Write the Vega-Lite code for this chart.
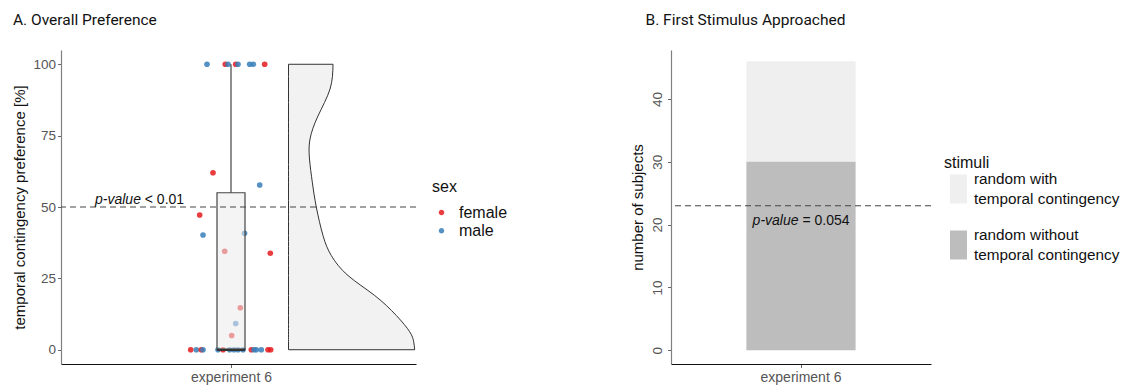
{
  "$schema": "https://vega.github.io/schema/vega-lite/v6.json",
  "background": "white",
  "padding": {"left": 12, "top": 12, "right": 5, "bottom": 5},
  "spacing": 122,
  "resolve": {"scale": {"color": "independent", "y": "independent"}, "legend": {"color": "independent"}},
  "config": {
    "view": {"stroke": null},
    "font": "Liberation Sans",
    "title": {"font": "Roboto", "fontSize": 15.5, "fontWeight": "normal", "color": "#111", "anchor": "start", "offset": 22},
    "axis": {"grid": false, "labelFont": "Liberation Sans", "labelFontSize": 13.5, "labelColor": "#555", "titleFont": "Liberation Sans", "titleFontSize": 15, "titleFontWeight": "normal", "titleColor": "#111", "tickColor": "#666", "tickSize": 3.5, "tickWidth": 1, "domainWidth": 1.2},
    "legend": {"titleFont": "Liberation Sans", "titleFontSize": 16, "titleFontWeight": "normal", "titleColor": "#111", "labelFont": "Liberation Sans", "labelFontSize": 16, "labelColor": "#111", "padding": 0}
  },
  "datasets": {
    "points": [
      {"jitter": -0.24, "value": 100, "sex": "male"},
      {"jitter": -0.057, "value": 100, "sex": "female"},
      {"jitter": -0.03, "value": 100, "sex": "male"},
      {"jitter": 0.047, "value": 100, "sex": "female"},
      {"jitter": 0.07, "value": 100, "sex": "male"},
      {"jitter": 0.187, "value": 100, "sex": "male"},
      {"jitter": 0.223, "value": 100, "sex": "male"},
      {"jitter": 0.337, "value": 100, "sex": "female"},
      {"jitter": -0.18, "value": 62, "sex": "female"},
      {"jitter": 0.287, "value": 57.7, "sex": "male"},
      {"jitter": -0.313, "value": 47.2, "sex": "female"},
      {"jitter": -0.28, "value": 40.2, "sex": "male"},
      {"jitter": 0.135, "value": 40.8, "sex": "male"},
      {"jitter": -0.063, "value": 34.5, "sex": "female"},
      {"jitter": 0.393, "value": 33.8, "sex": "female"},
      {"jitter": 0.093, "value": 14.7, "sex": "female"},
      {"jitter": 0.047, "value": 9.2, "sex": "male"},
      {"jitter": 0.007, "value": 5.0, "sex": "female"},
      {"jitter": -0.403, "value": 0, "sex": "female"},
      {"jitter": -0.347, "value": 0, "sex": "male"},
      {"jitter": -0.297, "value": 0, "sex": "female"},
      {"jitter": -0.28, "value": 0, "sex": "male"},
      {"jitter": -0.13, "value": 0, "sex": "male"},
      {"jitter": -0.08, "value": 0, "sex": "female"},
      {"jitter": -0.013, "value": 0, "sex": "male"},
      {"jitter": 0.03, "value": 0, "sex": "male"},
      {"jitter": 0.07, "value": 0, "sex": "male"},
      {"jitter": 0.12, "value": 0, "sex": "male"},
      {"jitter": 0.203, "value": 0, "sex": "female"},
      {"jitter": 0.23, "value": 0, "sex": "male"},
      {"jitter": 0.253, "value": 0, "sex": "male"},
      {"jitter": 0.303, "value": 0, "sex": "male"},
      {"jitter": 0.37, "value": 0, "sex": "female"},
      {"jitter": 0.397, "value": 0, "sex": "female"}
    ],
    "violin": [
      {"value": 0, "edge": 1.837},
      {"value": 2.8, "edge": 1.827},
      {"value": 6.3, "edge": 1.787},
      {"value": 12, "edge": 1.653},
      {"value": 19, "edge": 1.437},
      {"value": 26, "edge": 1.17},
      {"value": 33, "edge": 1.003},
      {"value": 40, "edge": 0.92},
      {"value": 50, "edge": 0.853},
      {"value": 58.7, "edge": 0.813},
      {"value": 66.8, "edge": 0.785},
      {"value": 73.8, "edge": 0.79},
      {"value": 81.9, "edge": 0.87},
      {"value": 91.3, "edge": 0.99},
      {"value": 100, "edge": 1.02}
    ],
    "box": [{"q1": 0, "median": 0, "q3": 55, "upper": 100}],
    "bars": [
      {"experiment": "experiment 6", "stimuli": "random with temporal contingency", "count": 16, "stack": 2},
      {"experiment": "experiment 6", "stimuli": "random without temporal contingency", "count": 30, "stack": 1}
    ]
  },
  "hconcat": [
    {
      "width": 355,
      "height": 314,
      "title": {"text": "A. Overall Preference"},
      "layer": [
        {
          "data": {"name": "violin"},
          "mark": {"type": "area", "orient": "horizontal", "interpolate": "natural", "fill": "#f2f2f2", "stroke": "#333", "strokeWidth": 1},
          "encoding": {
            "x": {"field": "edge", "type": "quantitative", "scale": {"domain": [-1.7, 1.85], "nice": false, "zero": false},
                  "axis": {"values": [0], "labelExpr": "'experiment 6'", "title": null, "domainColor": "#111", "labelFontSize": 14, "labelPadding": 3}},
            "x2": {"datum": 0.575},
            "y": {"field": "value", "type": "quantitative", "scale": {"domain": [-5, 105], "nice": false, "zero": false},
                  "axis": {"title": "temporal contingency preference [%]", "values": [0, 25, 50, 75, 100], "domainColor": "#808080", "labelPadding": 2, "titlePadding": 5}}
          }
        },
        {
          "data": {"name": "points"},
          "mark": {"type": "circle", "size": 32, "opacity": 0.85},
          "encoding": {
            "x": {"field": "jitter", "type": "quantitative"},
            "y": {"field": "value", "type": "quantitative"},
            "color": {"field": "sex", "type": "nominal",
                      "scale": {"domain": ["female", "male"], "range": ["#E41A1C", "#377EB8"]},
                      "legend": {"title": "sex", "orient": "none", "legendX": 371, "legendY": 129,
                                 "symbolType": "M0.3235,0A0.3235,0.3235,0,1,1,-0.3235,0A0.3235,0.3235,0,1,1,0.3235,0Z",
                                 "symbolSize": 289, "labelOffset": 8, "rowPadding": 0.3, "titlePadding": 8}}
          }
        },
        {
          "data": {"name": "box"},
          "mark": {"type": "rect", "fill": "#ebebeb", "fillOpacity": 0.55, "stroke": "#444", "strokeWidth": 1.2},
          "encoding": {
            "x": {"datum": -0.14}, "x2": {"datum": 0.14},
            "y": {"field": "q1", "type": "quantitative"}, "y2": {"field": "q3"}
          }
        },
        {
          "data": {"name": "box"},
          "mark": {"type": "rule", "color": "#444", "strokeWidth": 1.2},
          "encoding": {
            "x": {"datum": 0},
            "y": {"field": "q3", "type": "quantitative"}, "y2": {"field": "upper"}
          }
        },
        {
          "data": {"name": "box"},
          "mark": {"type": "rule", "color": "#333", "strokeWidth": 2.5},
          "encoding": {
            "x": {"datum": -0.14}, "x2": {"datum": 0.14},
            "y": {"field": "median", "type": "quantitative"}
          }
        },
        {
          "data": {"values": [{}]},
          "mark": {"type": "rule", "color": "#444", "strokeWidth": 1.2, "strokeDash": [6, 4]},
          "encoding": {"y": {"datum": 50}}
        },
        {
          "data": {"values": [{}]},
          "mark": {"type": "text", "align": "left", "baseline": "alphabetic", "fontSize": 14, "fontStyle": "italic", "color": "#111", "font": "Liberation Sans"},
          "encoding": {"x": {"datum": -1.36}, "y": {"datum": 51}, "text": {"value": "p-value"}}
        },
        {
          "data": {"values": [{}]},
          "mark": {"type": "text", "align": "left", "baseline": "alphabetic", "fontSize": 14, "dx": 49.8, "color": "#111", "font": "Liberation Sans"},
          "encoding": {"x": {"datum": -1.36}, "y": {"datum": 51}, "text": {"value": "< 0.01"}}
        }
      ]
    },
    {
      "width": 260,
      "height": 314,
      "title": {"text": "B. First Stimulus Approached", "dx": 15},
      "layer": [
        {
          "data": {"name": "bars"},
          "mark": {"type": "bar", "width": {"band": 0.42}},
          "encoding": {
            "x": {"field": "experiment", "type": "nominal", "scale": {"paddingInner": 0, "paddingOuter": 0},
                  "axis": {"title": null, "labelAngle": 0, "domainColor": "#111", "labelFontSize": 14, "labelPadding": 3}},
            "y": {"field": "count", "type": "quantitative", "stack": "zero",
                  "scale": {"domain": [-2.2, 47.8], "nice": false, "zero": false},
                  "axis": {"title": "number of subjects", "values": [0, 10, 20, 30, 40], "labelAngle": -90, "labelAlign": "center", "labelBaseline": "bottom", "domainColor": "#808080", "labelPadding": 3, "titlePadding": 5}},
            "color": {"field": "stimuli", "type": "nominal",
                      "scale": {"domain": ["random with temporal contingency", "random without temporal contingency"], "range": ["#efefef", "#bdbdbd"]},
                      "legend": {"title": "stimuli", "orient": "none", "legendX": 273, "legendY": 105,
                                 "symbolType": "M-0.643,-1.036H0.571V1.036H-0.643Z", "symbolSize": 784,
                                 "labelOffset": 0, "labelFontSize": 15.3, "rowPadding": 20, "titlePadding": 3, "labelLimit": 300,
                                 "labelExpr": "datum.label == 'random with temporal contingency' ? ['random with', 'temporal contingency'] : ['random without', 'temporal contingency']",
                                 "encode": {"labels": {"update": {"lineHeight": {"value": 20}, "dy": {"value": -10}}}}}},
            "order": {"field": "stack", "type": "quantitative"}
          }
        },
        {
          "data": {"values": [{}]},
          "mark": {"type": "rule", "color": "#444", "strokeWidth": 1.2, "strokeDash": [6, 4]},
          "encoding": {"y": {"datum": 23}}
        },
        {
          "data": {"values": [{}]},
          "mark": {"type": "text", "align": "left", "baseline": "alphabetic", "fontSize": 14, "fontStyle": "italic", "dx": -48.4, "color": "#111", "font": "Liberation Sans"},
          "encoding": {"x": {"datum": "experiment 6"}, "y": {"datum": 20}, "text": {"value": "p-value"}}
        },
        {
          "data": {"values": [{}]},
          "mark": {"type": "text", "align": "left", "baseline": "alphabetic", "fontSize": 14, "dx": 1.4, "color": "#111", "font": "Liberation Sans"},
          "encoding": {"x": {"datum": "experiment 6"}, "y": {"datum": 20}, "text": {"value": "= 0.054"}}
        }
      ]
    }
  ]
}
